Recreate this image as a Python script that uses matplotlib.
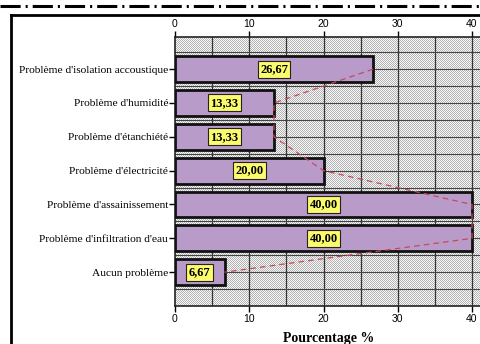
import matplotlib
matplotlib.use("Agg")
import matplotlib.pyplot as plt
from matplotlib.lines import Line2D
import numpy as np

plt.rcParams["lines.scale_dashes"] = False

categories = [
    "Problème d'isolation accoustique",
    "Problème d'humidité",
    "Problème d'étanchiété",
    "Problème d'électricité",
    "Problème d'assainissement",
    "Problème d'infiltration d'eau",
    "Aucun problème",
]
values = [26.67, 13.33, 13.33, 20.00, 40.00, 40.00, 6.67]
x_ticks = [0, 10, 20, 30, 40]
x_label = "Pourcentage %"

W, H = 481, 344
fig = plt.figure(figsize=(W / 100, H / 100), dpi=100)

# plot area (pixel geometry converted to figure fractions)
left_px, right_px, top_px, bottom_px = 175, 483, 37, 306
ax = fig.add_axes([left_px / W, 1 - bottom_px / H,
                   (right_px - left_px) / W, (bottom_px - top_px) / H])

xmax = 40 * (right_px - left_px) / (472 - left_px)
ylim = (7.0, -0.95)

# pixel-level stipple background
pw, ph = right_px - left_px, bottom_px - top_px
ii, jj = np.mgrid[0:ph, 0:pw]
stipple = np.where((ii + jj) % 2 == 0, 0.70, 0.97)
ax.imshow(stipple, cmap="gray", vmin=0, vmax=1, interpolation="nearest",
          extent=(0, xmax, ylim[0], ylim[1]), aspect="auto", zorder=0)
ax.set_xlim(0, xmax)
ax.set_ylim(*ylim)

# grid: every 5 units horizontally, every half row vertically
for gx in np.arange(5, 41, 5):
    ax.axvline(gx, color="#333333", linewidth=0.9, zorder=1)
for gy in np.arange(-0.5, 7.0, 0.5):
    ax.axhline(gy, color="#444444", linewidth=0.8, zorder=1)

y = np.arange(len(categories))
ax.barh(y, values, height=0.76, color="#b99bc9", edgecolor="#111111",
        linewidth=2.0, zorder=3)

# dashed profile through the bar ends
ax.plot(values, y, color="#c8485a", linewidth=0.9,
        linestyle=(0, (4, 3)), zorder=4)

# value labels in yellow boxes at bar centres
for yi, v in zip(y, values):
    ax.text(v / 2, yi, f"{v:.2f}".replace(".", ","), ha="center", va="center",
            fontsize=9, fontweight="bold", family="Liberation Serif",
            color="black", zorder=6,
            bbox=dict(boxstyle="square,pad=0.2", facecolor="#fbfb6e",
                      edgecolor="#222222", linewidth=0.8))

ax.set_yticks(y)
ax.set_yticklabels(categories, family="Liberation Serif", fontsize=8.2)
ax.set_xticks(x_ticks)
ax.set_xticklabels([str(t) for t in x_ticks], family="Liberation Sans",
                   fontsize=7.5)
ax.tick_params(axis="x", top=True, labeltop=True, bottom=True,
               labelbottom=True, direction="out", length=4, width=1,
               pad=1.5, color="black")
ax.tick_params(axis="y", direction="out", length=4, width=1, pad=1,
               color="black")

for s in ["left", "top", "bottom"]:
    ax.spines[s].set_color("#222222")
    ax.spines[s].set_linewidth(1.2)
ax.spines["right"].set_visible(False)

ax.set_xlabel(x_label, family="Liberation Serif", fontsize=10,
              fontweight="bold", labelpad=6)

# outer frame and dash-dot rule
fx, fy = 11 / W, 1 - 15 / H
fig.add_artist(Line2D([fx, fx], [-0.05, fy], transform=fig.transFigure,
                      color="black", linewidth=2.0))
fig.add_artist(Line2D([fx, 1.05], [fy, fy], transform=fig.transFigure,
                      color="black", linewidth=2.0))
fig.add_artist(Line2D([0, 1], [1 - 5.5 / H, 1 - 5.5 / H],
                      transform=fig.transFigure, color="black",
                      linewidth=2.2,
                      linestyle=(0, (14.5, 3.6, 1.5, 3.6))))

fig.savefig("out.png", dpi=100)
